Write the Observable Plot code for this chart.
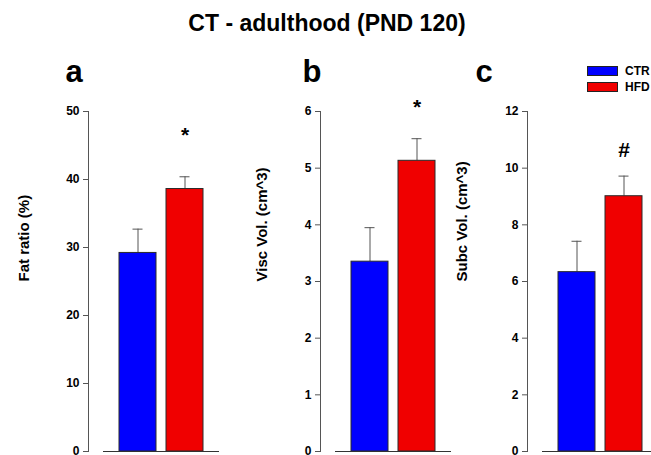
<!DOCTYPE html>
<html>
<head>
<meta charset="utf-8">
<script src="https://cdn.jsdelivr.net/npm/d3@7"></script>
<script src="https://cdn.jsdelivr.net/npm/@observablehq/plot@0.6"></script>
<style>
  html, body { margin: 0; padding: 0; background: #fff; overflow: hidden; }
  #wrap { position: relative; width: 651px; height: 455px; overflow: hidden; font-family: "Liberation Sans", Arial, sans-serif; font-weight: bold; color: #000; }
  .abs { position: absolute; }
  #title { left: 0; width: 654px; top: 12px; text-align: center; font-size: 23px; line-height: 23px; }
  .letter { font-size: 31px; line-height: 31px; width: 40px; text-align: center; top: 56px; }
  #legend { left: 587px; top: 63px; font-size: 12px; }
  .li { display: flex; align-items: center; height: 16px; }
  .sw { width: 29px; height: 8px; border: 1px solid #222; margin-right: 7px; }
  .panel { top: 0; }
</style>
</head>
<body>
<div id="wrap">
  <div id="title" class="abs">CT - adulthood (PND 120)</div>
  <div id="legend" class="abs"></div>
</div>
<script>
// ---- data ----
const groups = ["CTR", "HFD"];
const groupColors = ["#0000ff", "#f00000"];

const panelLetters = ["a", "b", "c"];
const axisLabels = ["Fat ratio (%)", "Visc Vol. (cm^3)", "Subc Vol. (cm^3)"];
const yMax = [50, 6, 12];
const yTicks = [
  [0, 10, 20, 30, 40, 50],
  [0, 1, 2, 3, 4, 5, 6],
  [0, 2, 4, 6, 8, 10, 12]
];

const fatRatio = [29.2, 38.6];
const fatRatioErr = [3.5, 1.8];
const viscVol = [3.35, 5.13];
const viscVolErr = [0.6, 0.39];
const subcVol = [6.33, 9.01];
const subcVolErr = [1.09, 0.71];

const sigMarks = ["*", "*", "#"];
const sigY = [46.5, 6.08, 10.62];

// ---- layout ----
const axisX = [88, 320, 527];   // page x of each y axis
const letterX = [74, 312, 484]; // page x centre of panel letters
const labelDx = [-79, -73, -80]; // axis title offset from plot frame
const ML = 90, MR = 5, MT = 111, MB = 10, PLOT_H = 340;

const series = [
  [fatRatio, fatRatioErr],
  [viscVol, viscVolErr],
  [subcVol, subcVolErr]
];

const wrap = document.getElementById("wrap");

series.forEach(([vals, errs], p) => {
  const data = groups.map((g, i) => ({group: g, value: vals[i], err: errs[i], color: groupColors[i]}));
  const chart = Plot.plot({
    width: ML + 116 + MR,
    height: MT + PLOT_H + MB,
    marginLeft: ML, marginRight: MR, marginTop: MT, marginBottom: MB,
    style: {fontFamily: "'Liberation Sans', Arial, sans-serif", fontWeight: "bold", fontSize: "12px", background: "transparent", overflow: "visible"},
    x: {domain: groups, paddingInner: 10 / 47, paddingOuter: 16 / 47, axis: null},
    y: {domain: [0, yMax[p]], axis: null},
    marks: [
      Plot.ruleX(data, {x: "group", y1: "value", y2: d => d.value + d.err, stroke: "#555", strokeWidth: 1}),
      Plot.tickY(data, {x: "group", y: d => d.value + d.err, stroke: "#555", strokeWidth: 1, insetLeft: 13.5, insetRight: 13.5}),
      Plot.barY(data, {x: "group", y: "value", fill: "color", stroke: "#2a2a2a", strokeWidth: 1}),
      Plot.ruleY([0], {stroke: "#333", strokeWidth: 1}),
      Plot.frame({anchor: "left", dx: -15, stroke: "#555"}),
      Plot.axisY({ticks: yTicks[p], tickFormat: d => String(d), tickSize: 5, tickPadding: 4, dx: -15, stroke: "#555", fill: "#000", label: null, fontSize: 12}),
      Plot.text([axisLabels[p]], {text: d => d, frameAnchor: "left", rotate: -90, dx: labelDx[p], fontSize: 15, fill: "#000"}),
      Plot.text([sigMarks[p]], {x: () => groups[1], y: () => sigY[p], text: d => d, fontSize: 21, fill: "#000"})
    ]
  });
  chart.classList.add("abs", "panel");
  chart.style.left = (axisX[p] + 15 - ML) + "px";
  chart.style.top = "0px";
  wrap.appendChild(chart);

  const letter = document.createElement("div");
  letter.className = "abs letter";
  letter.textContent = panelLetters[p];
  letter.style.left = (letterX[p] - 20) + "px";
  wrap.appendChild(letter);
});

const legend = document.getElementById("legend");
groups.forEach((g, i) => {
  const row = document.createElement("div");
  row.className = "li";
  const sw = document.createElement("div");
  sw.className = "sw";
  sw.style.background = groupColors[i];
  const t = document.createElement("span");
  t.textContent = g;
  row.appendChild(sw); row.appendChild(t);
  legend.appendChild(row);
});
</script>
</body>
</html>
